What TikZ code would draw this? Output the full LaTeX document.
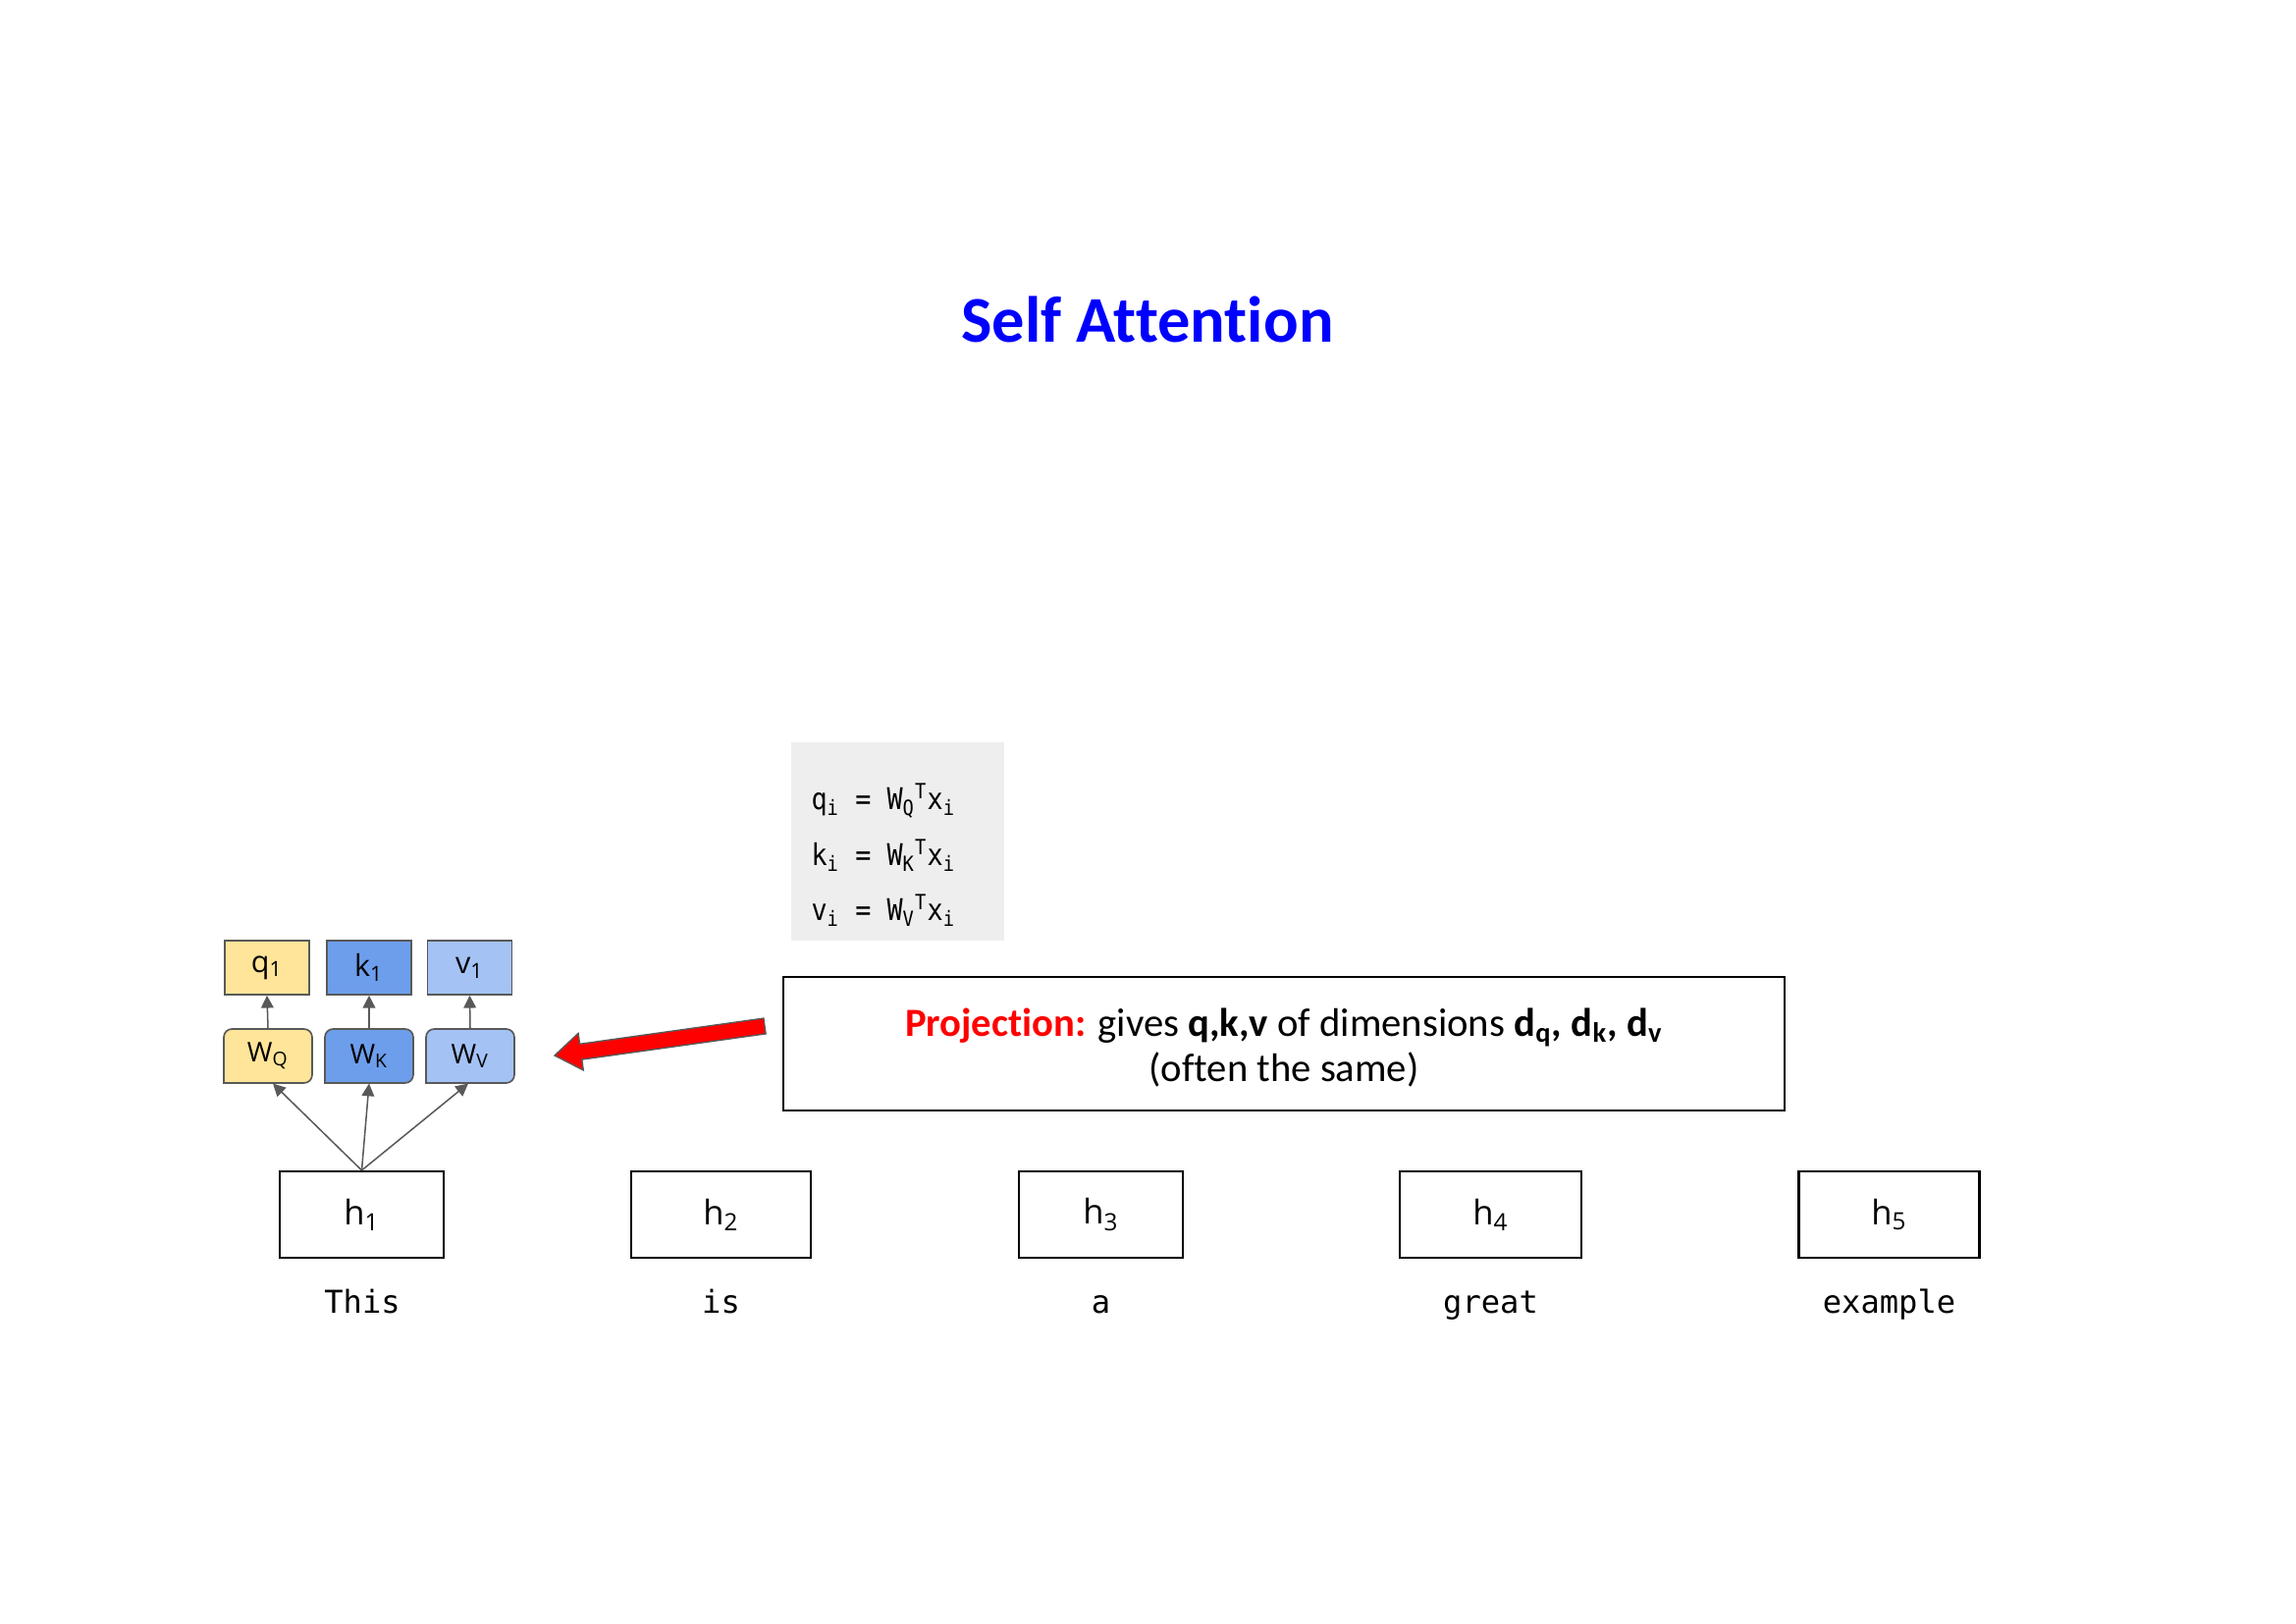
\documentclass[tikz,border=0pt]{standalone}
\usepackage{fontspec}
\setmainfont{Carlito}[Ligatures=NoCommon]
\newfontfamily\labfont{Open Sans}
\newfontfamily\eqfont{DejaVu Sans Mono}
\usetikzlibrary{arrows.meta,calc}
\definecolor{qcol}{HTML}{FFE599}
\definecolor{kcol}{HTML}{6D9EEB}
\definecolor{vcol}{HTML}{A4C2F4}
\definecolor{edge}{HTML}{595959}
\definecolor{eqbg}{HTML}{EEEEEE}
\definecolor{titleblue}{HTML}{0000FF}
\def\pu{0.12698mm}
\newcommand\eqtext[1]{\scalebox{0.88}[1]{#1}}
\begin{document}
\begin{tikzpicture}[x=0.12698mm,y=-0.12698mm,
  hbox/.style={draw=black,line width=0.75pt,minimum height=88*\pu,inner sep=0pt,
    font=\labfont\fontsize{12.5}{14}\selectfont},
  word/.style={anchor=base,inner sep=0pt,font=\eqfont\fontsize{11.6}{14}\selectfont},
  vecbox/.style={draw=edge,line width=0.6pt,minimum width=86*\pu,minimum height=55*\pu,
    inner sep=0pt,font=\labfont\fontsize{11}{13}\selectfont},
  wlabel/.style={minimum width=90*\pu,minimum height=55*\pu,inner sep=0pt,
    font=\labfont\fontsize{10}{12}\selectfont},
  wshape/.style={draw=edge,line width=0.6pt},
  link/.style={draw=edge,line width=0.55pt,-{Triangle[length=4.6pt,width=4.6pt]}},
  eqline/.style={anchor=base west,inner sep=0pt,font=\eqfont\fontsize{11}{13}\selectfont}
]
\useasboundingbox (0,0) rectangle (2339,1654);

% title
\node[anchor=base,inner sep=0pt,text=titleblue,font=\bfseries\fontsize{24}{28}\selectfont]
  (title) at (1169,349) {Self Attention};

% projection equations
\node[fill=eqbg,minimum width=217*\pu,minimum height=202*\pu,inner sep=0pt] (eqbox) at (914.5,857.5) {};
\node[eqline] (eqq) at (826,825) {\eqtext{q\textsubscript{i} = W\textsubscript{Q}\textsuperscript{T}x\textsubscript{i}}};
\node[eqline] (eqk) at (826,882) {\eqtext{k\textsubscript{i} = W\textsubscript{K}\textsuperscript{T}x\textsubscript{i}}};
\node[eqline] (eqv) at (826,938) {\eqtext{v\textsubscript{i} = W\textsubscript{V}\textsuperscript{T}x\textsubscript{i}}};

% projected vectors
\node[vecbox,fill=qcol] (q1) at (272,985.5) {q\textsubscript{1}};
\node[vecbox,fill=kcol] (k1) at (376,985.5) {k\textsubscript{1}};
\node[vecbox,fill=vcol] (v1) at (478.5,985.5) {v\textsubscript{1}};

% weight matrices (rounded top corners)
\draw[wshape,fill=qcol] (228,1103) [rounded corners=3pt] -- (228,1048) -- (318,1048) -- (318,1103) [sharp corners] -- cycle;
\draw[wshape,fill=kcol] (331,1103) [rounded corners=3pt] -- (331,1048) -- (421,1048) -- (421,1103) [sharp corners] -- cycle;
\draw[wshape,fill=vcol] (434,1103) [rounded corners=3pt] -- (434,1048) -- (524,1048) -- (524,1103) [sharp corners] -- cycle;
\node[wlabel] (wq) at (273,1075.5) {W\textsubscript{Q}};
\node[wlabel] (wk) at (376,1075.5) {W\textsubscript{K}};
\node[wlabel] (wv) at (479,1075.5) {W\textsubscript{V}};

\draw[link] (wq.north) -- (q1.south);
\draw[link] (wk.north) -- (k1.south);
\draw[link] (wv.north) -- (v1.south);

% hidden states
\node[hbox,minimum width=167*\pu] (h1) at (368.5,1237) {h\textsubscript{1}};
\node[hbox,minimum width=183*\pu] (h2) at (734.5,1237) {h\textsubscript{2}};
\node[hbox,minimum width=167*\pu] (h3) at (1121.5,1237) {h\textsubscript{3}};
\node[hbox,minimum width=185*\pu] (h4) at (1518.5,1237) {h\textsubscript{4}};
\node[hbox,minimum width=184*\pu] (h5) at (1924.5,1237) {h\textsubscript{5}};

\node[word] (t1) at (369,1337) {This};
\node[word] (t2) at (734.5,1337) {is};
\node[word] (t3) at (1121.5,1337) {a};
\node[word] (t4) at (1518.5,1337) {great};
\node[word] (t5) at (1924.5,1337) {example};

\draw[link] (h1.north) -- ([xshift=5*\pu]wq.south);
\draw[link] (h1.north) -- (wk.south);
\draw[link] (h1.north) -- ([xshift=-2*\pu]wv.south);

% explanation box
\node[draw=black,line width=0.75pt,minimum width=1020*\pu,minimum height=136*\pu,inner sep=0pt,
  align=center,font=\fontsize{14.7}{16.6}\selectfont] (proj) at (1308,1063) {};
\node[align=center,inner sep=0pt,font=\fontsize{14.7}{16.6}\selectfont] (projtext) at (1308,1067)
  {\textcolor{red}{\textbf{Projection:}} gives \textbf{q,k,v} of dimensions
   \textbf{d\textsubscript{q}, d\textsubscript{k}, d\textsubscript{v}}\\(often the same)};

% block arrow pointing from the explanation to the weights
\filldraw[fill=red,draw=edge,line width=0.5pt]
  (565,1075) -- (594.3,1090.0) -- (592.8,1079.1) -- (780.1,1052.9)
  -- (777.9,1037.1) -- (590.6,1063.3) -- (589.1,1052.4) -- cycle;
\end{tikzpicture}
\end{document}
